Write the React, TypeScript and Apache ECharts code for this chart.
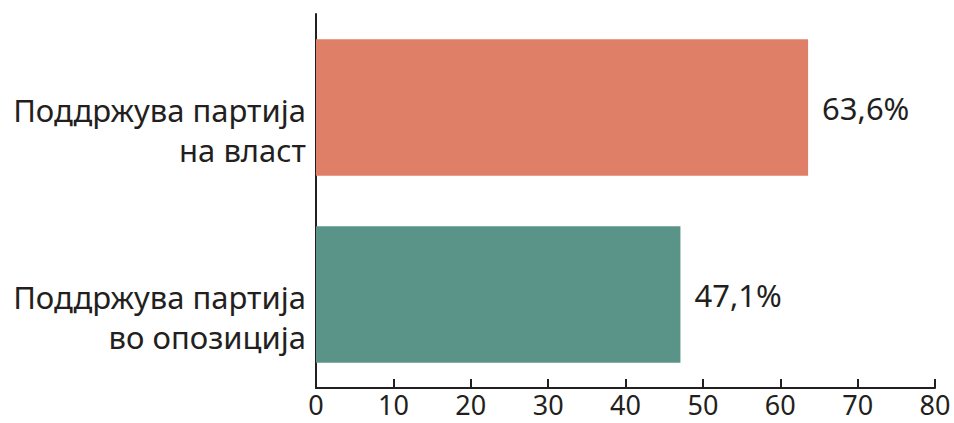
import React, { useEffect, useRef } from "react";
import * as echarts from "echarts";

const categories = ["Поддржува партија\nна власт", "Поддржува партија\nво опозиција"];
const values = [63.6, 47.1];
const barColors = ["#E07F68", "#5A9488"];
const xTicks = [0, 80, 10];

export default function App() {
  const ref = useRef<HTMLDivElement>(null);
  useEffect(() => {
    const chart = echarts.init(ref.current!, null, { renderer: "svg" });
    const font = "'Noto Sans', sans-serif";
    chart.setOption({
      animation: false,
      grid: { left: 316, right: 19, top: 14, bottom: 35, containLabel: false },
      xAxis: {
        type: "value",
        min: xTicks[0],
        max: xTicks[1],
        interval: xTicks[2],
        axisLine: { show: true, lineStyle: { color: "#231F20", width: 2 } },
        axisTick: { show: true, inside: true, length: 9, lineStyle: { color: "#231F20", width: 2 } },
        splitLine: { show: false },
        axisLabel: { color: "#231F20", fontSize: 27, lineHeight: 27, fontFamily: font, margin: 3 },
      },
      yAxis: {
        type: "category",
        inverse: true,
        data: categories,
        axisLine: { show: true, lineStyle: { color: "#231F20", width: 2 } },
        axisTick: { show: false },
        axisLabel: {
          align: "right",
          margin: 10,
          formatter: (v: string) =>
            "{s| }\n" + v.split("\n").map((l) => "{a|" + l + "}").join("\n"),
          rich: {
            s: { fontSize: 1, lineHeight: 44 },
            a: { color: "#231F20", fontSize: 31, fontFamily: font, lineHeight: 40, align: "right" },
          },
        },
      },
      series: [
        {
          type: "bar",
          data: values.map((v, i) => ({ value: v, itemStyle: { color: barColors[i] } })),
          barCategoryGap: "27%",
          label: {
            show: true,
            position: "right",
            distance: 14,
            color: "#231F20",
            fontSize: 31,
            fontFamily: font,
            formatter: (p: any) => String(p.value).replace(".", ",") + "%",
          },
        },
      ],
    });
    return () => chart.dispose();
  }, []);
  return <div ref={ref} style={{ width: 954, height: 423, position: "absolute", left: 0, top: 0 }} />;
}
